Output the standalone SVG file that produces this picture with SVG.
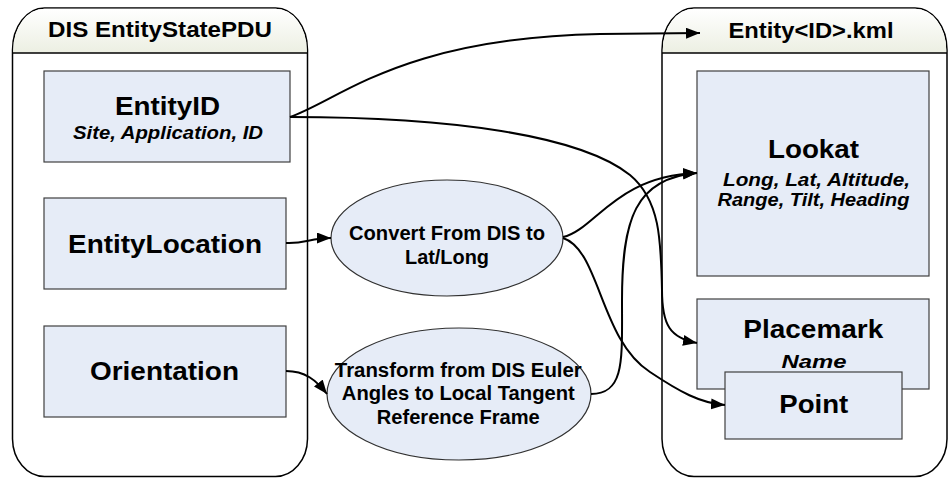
<svg xmlns="http://www.w3.org/2000/svg" width="951" height="478" viewBox="0 0 951 478">
<defs>
<linearGradient id="hdr" x1="0" y1="0" x2="0" y2="1">
<stop offset="0" stop-color="#ffffff"/>
<stop offset="1" stop-color="#ecefe2"/>
</linearGradient>
<marker id="arr" markerUnits="userSpaceOnUse" markerWidth="15" markerHeight="12" refX="14" refY="5.5" orient="auto">
<path d="M0,0 L14,5.5 L0,11 z" fill="#000"/>
</marker>
<style>
.cont{fill:#fff;stroke:#000;stroke-width:1.5}
.hdr{fill:url(#hdr);stroke:none}
.hline{stroke:#000;stroke-width:1.5}
.box{fill:#e6ecf7;stroke:#404040;stroke-width:1.2}
.ell{fill:#e6ecf7;stroke:#303030;stroke-width:1.2}
text{font-family:"Liberation Sans",Arial,sans-serif;font-weight:bold;fill:#000;text-anchor:middle}
.h{font-size:21.5px}
.big{font-size:26.5px}
.sub{font-size:18.5px;font-style:italic}
.e{font-size:19.5px}
.con{fill:none;stroke:#000;stroke-width:2;marker-end:url(#arr)}
</style>
</defs>
<rect width="951" height="478" fill="#fff"/>

<g id="dis-container">
<path class="cont" d="M12.5,50 A32,42 0 0 1 44.5,8 L275.5,8 A32,42 0 0 1 307.5,50 L307.5,439 A32,38 0 0 1 275.5,476.5 L44.5,476.5 A32,38 0 0 1 12.5,439 Z"/>
<path class="hdr" d="M13.3,53 L13.3,50 A31,41 0 0 1 44.5,8.8 L275.5,8.8 A31,41 0 0 1 306.7,50 L306.7,53 Z"/>
<line class="hline" x1="12.5" y1="53" x2="307.5" y2="53"/>
<text class="h" x="160" y="37" textLength="224" lengthAdjust="spacingAndGlyphs">DIS EntityStatePDU</text>
</g>

<g id="kml-container">
<path class="cont" d="M662,50 A32,42 0 0 1 694,8 L915,8 A32,42 0 0 1 947,50 L947,439 A32,38 0 0 1 915,476.5 L694,476.5 A32,38 0 0 1 662,439 Z"/>
<path class="hdr" d="M662.8,53 L662.8,50 A31,41 0 0 1 694,8.8 L915,8.8 A31,41 0 0 1 946.2,50 L946.2,53 Z"/>
<line class="hline" x1="662" y1="53" x2="947" y2="53"/>
<text class="h" x="811" y="37.5" textLength="165" lengthAdjust="spacingAndGlyphs">Entity&lt;ID&gt;.kml</text>
</g>

<g id="entityid">
<rect class="box" x="44" y="71" width="246" height="91"/>
<text class="big" x="167.5" y="115" textLength="105" lengthAdjust="spacingAndGlyphs">EntityID</text>
<text class="sub" x="168" y="138.5" textLength="190" lengthAdjust="spacingAndGlyphs">Site, Application, ID</text>
</g>

<g id="entitylocation">
<rect class="box" x="44" y="198" width="242" height="91"/>
<text class="big" x="165" y="252.7" textLength="194" lengthAdjust="spacingAndGlyphs">EntityLocation</text>
</g>

<g id="orientation">
<rect class="box" x="44" y="326" width="242" height="91"/>
<text class="big" x="164.5" y="380" textLength="149" lengthAdjust="spacingAndGlyphs">Orientation</text>
</g>

<g id="convert">
<ellipse class="ell" cx="447" cy="238" rx="116" ry="58"/>
<text class="e" x="447" y="239.5" textLength="196" lengthAdjust="spacingAndGlyphs">Convert From DIS to</text>
<text class="e" x="447" y="264.3" textLength="84" lengthAdjust="spacingAndGlyphs">Lat/Long</text>
</g>

<g id="transform">
<ellipse class="ell" cx="459" cy="394" rx="132" ry="66"/>
<text class="e" x="458.3" y="376.7" textLength="247" lengthAdjust="spacingAndGlyphs">Transform from DIS Euler</text>
<text class="e" x="458.3" y="400" textLength="233" lengthAdjust="spacingAndGlyphs">Angles to Local Tangent</text>
<text class="e" x="458.3" y="424.3" textLength="163" lengthAdjust="spacingAndGlyphs">Reference Frame</text>
</g>

<g id="lookat">
<rect class="box" x="697" y="71" width="232" height="205"/>
<text class="big" x="813.5" y="157.7" textLength="91" lengthAdjust="spacingAndGlyphs">Lookat</text>
<text class="sub" x="816.5" y="186" textLength="187" lengthAdjust="spacingAndGlyphs">Long, Lat, Altitude,</text>
<text class="sub" x="813.5" y="206" textLength="192" lengthAdjust="spacingAndGlyphs">Range, Tilt, Heading</text>
</g>

<g id="placemark">
<rect class="box" x="697" y="299" width="232" height="90"/>
<text class="big" x="813.3" y="338.3" textLength="140" lengthAdjust="spacingAndGlyphs">Placemark</text>
<text class="sub" x="814" y="367.7" textLength="65" lengthAdjust="spacingAndGlyphs">Name</text>
</g>

<g id="point">
<rect class="box" x="725" y="372" width="177" height="67"/>
<text class="big" x="813.8" y="413.3" textLength="69" lengthAdjust="spacingAndGlyphs">Point</text>
</g>

<g id="connectors">
<path class="con" d="M290,117 C340,100 400,38 600,34 L700,33"/>
<path class="con" d="M290,117 C450,117 580,135 630,175 C660,200 661,240 662,290 C662,325 670,338 697,343"/>
<path class="con" d="M286,243 C305,244 310,238 331,238"/>
<path class="con" d="M286,371 C305,371 316,380 327,394"/>
<path class="con" d="M563,237 C595,230 615,176 697,173"/>
<path class="con" d="M563,238 C600,250 600,340 650,372 C680,392 700,403 725,405"/>
<path class="con" d="M591,394 C625,394 622,360 622,300 C622,220 635,178 697,173"/>
</g>
</svg>
